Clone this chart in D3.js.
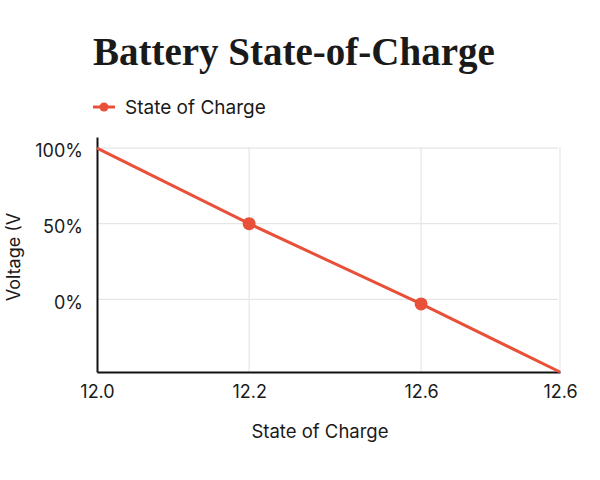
<!DOCTYPE html>
<html lang="en">
<head>
    <meta charset="utf-8">
    <title>Battery State-of-Charge</title>
    <script src="https://d3js.org/d3.v7.min.js" charset="utf-8"></script>
    <style type="text/css">
        body {
            margin: 0;
            background: #fff;
        }
        svg text {
            fill: #1a1a1a;
        }
    </style>
</head>
<body>
    <script type="text/javascript">
        // chart values
        var volts = [12.0, 12.23, 12.49, 12.70];
        var charge = [100, 50, -3, -48];
        var xTicks = [12.0, 12.23, 12.49, 12.70];
        var xTickLabels = ["12.0", "12.2", "12.6", "12.6"];
        var yTicks = [100, 50, 0];
        var seriesName = "State of Charge";

        var width = 600;
        var height = 480;
        var margin = {top: 137, right: 40, bottom: 108, left: 97};
        var color = "#e8503a";

        var data = volts.map(function (v, i) {
            return {volt: v, soc: charge[i]};
        });

        var svg = d3.select("body")
                    .append("svg")
                    .attr("width", width)
                    .attr("height", height);

        var x = d3.scaleLinear()
                  .domain([12.0, 12.70])
                  .range([margin.left, width - margin.right]);
        var y = d3.scaleLinear()
                  .domain([-48, 107.3])
                  .range([height - margin.bottom, margin.top]);

        // title
        svg.append("text")
           .attr("x", 93)
           .attr("y", 65)
           .attr("font-family", "'Liberation Serif', serif")
           .attr("font-weight", "bold")
           .attr("font-size", "39px")
           .text("Battery State-of-Charge");

        // legend
        var legend = svg.append("g").attr("transform", "translate(93, 107)");
        legend.append("line")
              .attr("x1", 0).attr("x2", 22)
              .attr("stroke", color)
              .attr("stroke-width", 3);
        legend.append("circle")
              .attr("cx", 11).attr("r", 4.5)
              .attr("fill", color);
        legend.append("text")
              .attr("x", 32)
              .attr("y", 7)
              .attr("font-family", "Inter, sans-serif")
              .attr("font-size", "19px")
              .text(seriesName);

        // grid
        svg.append("g")
           .selectAll("line")
           .data(yTicks)
           .enter()
           .append("line")
           .attr("x1", x(12.0))
           .attr("x2", x(12.70) - 2)
           .attr("y1", function (d) { return y(d); })
           .attr("y2", function (d) { return y(d); })
           .attr("stroke", "#e6e6e6")
           .attr("stroke-width", 1.2);

        svg.append("g")
           .selectAll("line")
           .data(xTicks.slice(1))
           .enter()
           .append("line")
           .attr("x1", function (d) { return x(d); })
           .attr("x2", function (d) { return x(d); })
           .attr("y1", margin.top + 10)
           .attr("y2", height - margin.bottom)
           .attr("stroke", "#e6e6e6")
           .attr("stroke-width", 1.2);

        // axes
        var xAxis = svg.append("g")
           .attr("transform", "translate(0, " + (height - margin.bottom) + ")")
           .call(d3.axisBottom(x)
                   .tickValues(xTicks)
                   .tickSize(0)
                   .tickPadding(13)
                   .tickFormat(function (d, i) { return xTickLabels[i]; }));
        xAxis.select(".domain").attr("stroke", "#111").attr("stroke-width", 2);
        xAxis.selectAll("text")
             .attr("font-family", "Inter, sans-serif")
             .attr("font-size", "18px")
             .attr("fill", "#1a1a1a");

        var yAxis = svg.append("g")
           .attr("transform", "translate(" + margin.left + ", 0)")
           .call(d3.axisLeft(y)
                   .tickValues(yTicks)
                   .tickSize(0)
                   .tickPadding(14)
                   .tickFormat(function (d) { return d + "%"; }));
        yAxis.select(".domain").attr("stroke", "#111").attr("stroke-width", 2);
        yAxis.selectAll("text")
             .attr("font-family", "Inter, sans-serif")
             .attr("font-size", "18px")
             .attr("dy", "0.48em")
             .attr("fill", "#1a1a1a");

        // axis titles
        svg.append("text")
           .attr("x", 320)
           .attr("y", 438)
           .attr("text-anchor", "middle")
           .attr("font-family", "Inter, sans-serif")
           .attr("font-size", "18.5px")
           .text("State of Charge");

        svg.append("text")
           .attr("transform", "translate(20, 257) rotate(-90)")
           .attr("text-anchor", "middle")
           .attr("font-family", "Inter, sans-serif")
           .attr("font-size", "18px")
           .text("Voltage (V");

        // series
        var line = d3.line()
                     .x(function (d) { return x(d.volt); })
                     .y(function (d) { return y(d.soc); });

        svg.append("path")
           .datum(data)
           .attr("d", line)
           .attr("fill", "none")
           .attr("stroke", color)
           .attr("stroke-width", 3);

        svg.selectAll("circle.pt")
           .data(data.slice(1, 3))
           .enter()
           .append("circle")
           .attr("class", "pt")
           .attr("cx", function (d) { return x(d.volt); })
           .attr("cy", function (d) { return y(d.soc); })
           .attr("r", 6.5)
           .attr("fill", color);
    </script>
</body>
</html>
